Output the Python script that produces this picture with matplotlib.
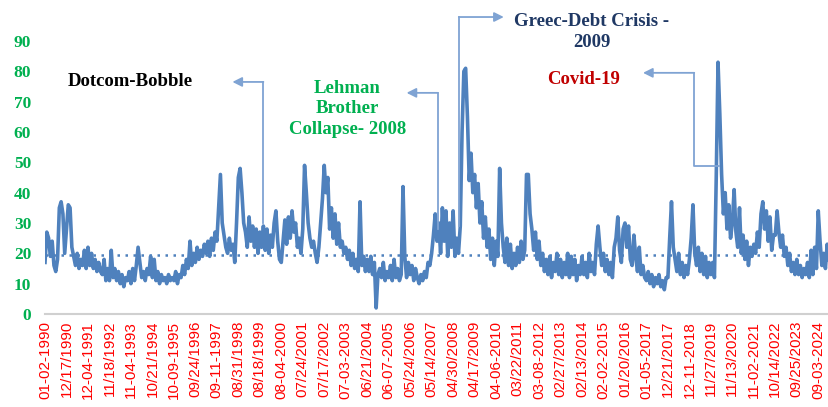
import numpy as np
import matplotlib.pyplot as plt

# volatility index, ~12 readings between each date label
vix_rows = [
    [17, 27, 25, 19, 24, 16, 14, 18, 35, 37, 33, 20],   # 1990
    [28, 36, 35, 22, 19, 16, 20, 15, 18, 16, 21, 15],
    [22, 16, 20, 15, 18, 14, 17, 14, 13, 18, 11, 15],
    [11, 21, 12, 15, 11, 14, 10, 13, 9, 12, 11, 14],
    [10, 15, 11, 16, 22, 17, 12, 14, 11, 15, 13, 19],
    [12, 18, 11, 14, 10, 13, 11, 12, 10, 13, 11, 12],   # 1995
    [11, 14, 10, 13, 12, 16, 13, 18, 15, 24, 16, 20],
    [17, 22, 18, 21, 19, 23, 20, 24, 19, 25, 21, 27],
    [24, 35, 46, 30, 26, 22, 20, 25, 21, 23, 17, 30],
    [45, 48, 40, 30, 27, 22, 32, 24, 29, 22, 28, 20],
    [27, 22, 29, 21, 28, 20, 26, 22, 30, 34, 24, 18],   # 2000
    [17, 24, 31, 23, 32, 25, 34, 27, 30, 22, 25, 20],
    [28, 49, 40, 30, 25, 22, 24, 20, 17, 22, 30, 38],
    [49, 40, 45, 28, 35, 25, 33, 23, 30, 22, 24, 20],
    [22, 18, 21, 16, 20, 15, 18, 14, 37, 16, 19, 14],
    [18, 14, 19, 13, 17, 2, 13, 15, 12, 17, 11, 14],    # 2005
    [12, 16, 11, 18, 12, 15, 11, 13, 42, 19, 12, 17],
    [13, 16, 11, 15, 12, 10, 13, 11, 14, 12, 17, 16],
    [20, 26, 33, 24, 30, 20, 35, 24, 34, 19, 30, 22],
    [34, 19, 25, 20, 29, 60, 80, 81, 65, 44, 53, 40],
    [46, 35, 43, 30, 37, 25, 32, 22, 28, 18, 25, 16],   # 2010
    [24, 19, 48, 30, 22, 17, 25, 16, 23, 15, 20, 16],
    [22, 17, 24, 18, 21, 46, 46, 33, 28, 21, 27, 18],
    [24, 16, 20, 14, 18, 13, 19, 12, 17, 14, 20, 13],
    [18, 12, 17, 13, 20, 12, 19, 13, 18, 11, 16, 13],
    [19, 13, 17, 12, 20, 14, 17, 13, 23, 29, 22, 16],   # 2015
    [20, 14, 18, 13, 17, 12, 22, 25, 32, 21, 17, 28],
    [30, 22, 29, 18, 16, 26, 19, 14, 22, 13, 16, 12],
    [11, 14, 10, 13, 9, 12, 10, 13, 9, 11, 8, 12],
    [12, 25, 37, 22, 18, 14, 20, 13, 17, 12, 16, 13],
    [18, 25, 36, 20, 16, 22, 14, 20, 13, 19, 12, 17],   # 2020
    [13, 17, 12, 45, 83, 66, 46, 33, 40, 28, 36, 25],
    [30, 41, 27, 22, 35, 20, 26, 18, 24, 16, 22, 19],
    [23, 20, 27, 22, 33, 37, 28, 34, 24, 32, 21, 26],
    [26, 34, 27, 22, 26, 19, 22, 16, 20, 14, 17, 13],
    [18, 13, 16, 12, 15, 13, 17, 12, 21, 13, 22, 15],
    [34, 24, 16, 20, 15, 23, 18],
]
vix = np.array([v for row in vix_rows for v in row], dtype=float)
avg_level = 19.5

date_labels = ['01-02-1990', '12/17/1990', '12-04-1991', '11/18/1992', '11-04-1993',
               '10/21/1994', '10-09-1995', '09/24/1996', '09-11-1997', '08/31/1998',
               '08/18/1999', '08-04-2000', '07/24/2001', '07/17/2002', '07-03-2003',
               '06/21/2004', '06-07-2005', '05/24/2006', '05/14/2007', '04/30/2008',
               '04/17/2009', '04-06-2010', '03/22/2011', '03-08-2012', '02/27/2013',
               '02/13/2014', '02-02-2015', '01/20/2016', '01-05-2017', '12/21/2017',
               '12-11-2018', '11/27/2019', '11/13/2020', '11-02-2021', '10/14/2022',
               '09/25/2023', '09-03-2024']
step = 12

x = np.arange(len(vix))

fig = plt.figure(figsize=(8.29, 4.07), dpi=100)
ax = fig.add_axes([0.0543, 0.2285, 0.9457, 0.6708])

blue = '#4F81BD'
arrow_c = '#7FA3D3'
ax.plot(x, vix, color=blue, lw=2.6, solid_joinstyle='round')
ax.axhline(avg_level, color=blue, lw=1.8, ls=(0, (1, 2.2)), zorder=1)

ax.set_xlim(0, len(vix) - 1)
ax.set_ylim(0, 90)
ax.set_yticks(range(0, 91, 10))
ax.set_xticks(np.arange(len(date_labels)) * step)
ax.set_xticklabels(date_labels, rotation=90, color='#FF0000',
                   fontsize=11, family='Liberation Sans')
for t in ax.get_yticklabels():
    t.set_color('#00B050')
    t.set_fontweight('bold')
    t.set_family('Liberation Serif')
    t.set_fontsize(12.5)
ax.tick_params(axis='both', length=0)
ax.tick_params(axis='y', pad=10)
ax.tick_params(axis='x', pad=5)
for s in ['top', 'right', 'left']:
    ax.spines[s].set_visible(False)
ax.spines['bottom'].set_color('#D0D0D0')
ax.spines['bottom'].set_linewidth(1.5)


def callout(path, color=arrow_c):
    xs, ys = zip(*path)
    ax.plot(xs[:-1], ys[:-1], color=color, lw=1.3, clip_on=False)
    ax.annotate('', xy=path[-1], xytext=path[-2], annotation_clip=False,
                arrowprops=dict(arrowstyle='-|>', color=color, lw=1.3,
                                mutation_scale=14, shrinkA=0, shrinkB=0))


callout([(122.0, 30), (122.0, 76.5), (104.7, 76.5)])
callout([(219.4, 28), (219.4, 72.9), (202.0, 72.9)])
callout([(231.2, 29), (231.2, 97.9), (256.3, 97.9)])
callout([(376.7, 48.8), (362.7, 48.8), (362.7, 79.5), (334.1, 79.5)])

tfont = dict(family='Liberation Serif', fontweight='bold', fontsize=13.5,
             ha='center', va='center', clip_on=False)
ax.text(47.6, 76.5, 'Dotcom-Bobble', color='black', **tfont)
ax.text(169, 67.6, 'Lehman\nBrother\nCollapse- 2008', color='#00B050',
        linespacing=1.3, **tfont)
ax.text(305.6, 93.1, 'Greec-Debt Crisis -\n2009', color='#1F3864',
        linespacing=1.3, **tfont)
ax.text(301, 77.2, 'Covid-19', color='#C00000', **tfont)

plt.savefig('out.png', dpi=100)
